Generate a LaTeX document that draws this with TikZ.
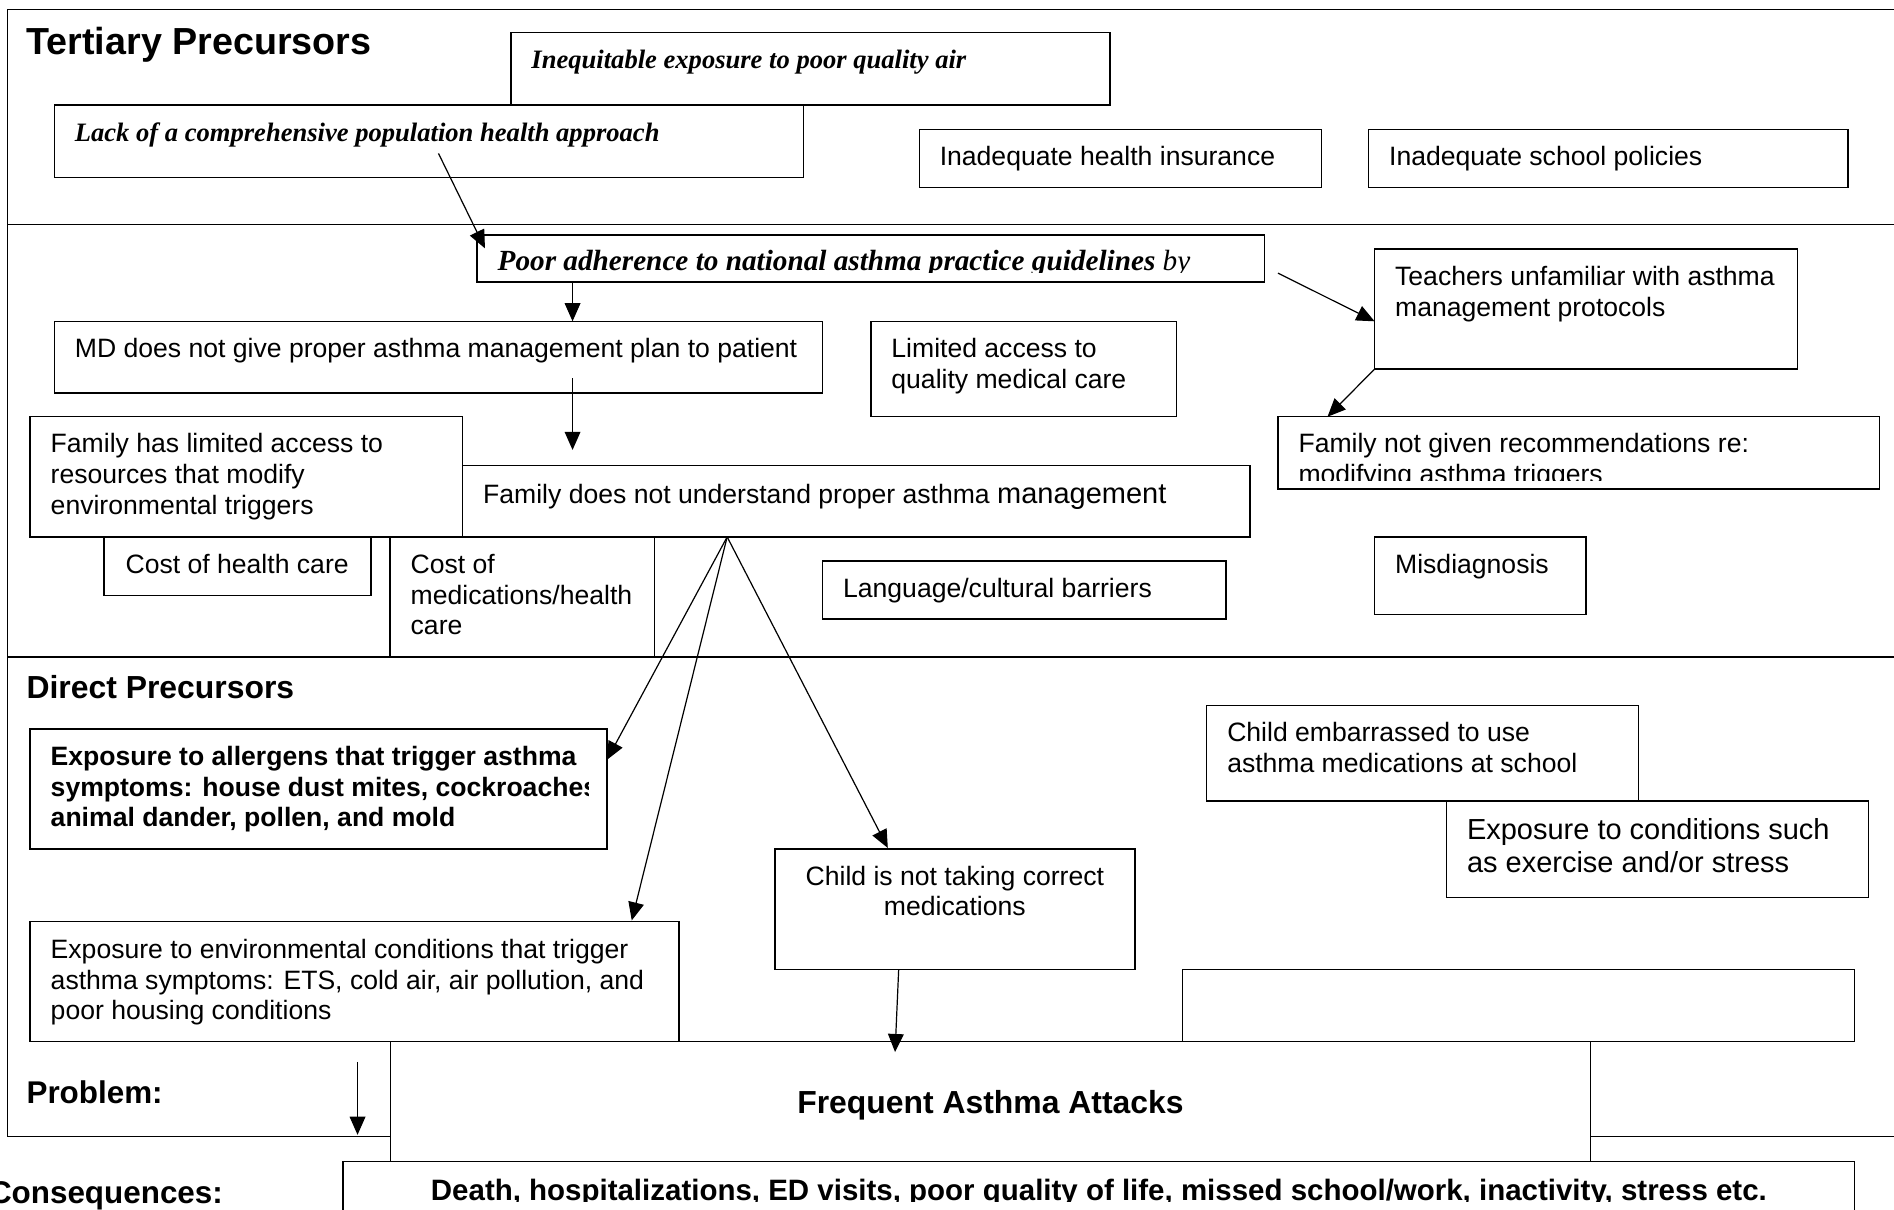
\documentclass[tikz,border=0pt]{standalone}
\usepackage{fontspec}
\setmainfont{Liberation Sans}
\newfontfamily\tnr{Liberation Serif}
\usetikzlibrary{fit,calc,arrows.meta}
\newcommand\mkbox[5]{\node[box,fit={(#2,#3) (#4,#5)}] (#1) {};}
\begin{document}
\begin{tikzpicture}[x=1pt,y=-1pt,
  frame/.style={draw,line width=1.2pt,inner sep=0pt,outer sep=0pt},
  box/.style={draw,fill=white,line width=1.2pt,inner sep=0pt,outer sep=0pt},
  txt/.style={inner sep=0pt,outer sep=0pt,anchor=base west,font=\fontsize{22}{25.3}\selectfont},
  tnrbi/.style={inner sep=0pt,outer sep=0pt,anchor=base west,font=\tnr\bfseries\itshape\fontsize{22}{25.3}\selectfont},
  head/.style={inner sep=0pt,outer sep=0pt,anchor=base west},
  arr/.style={line width=1pt,-{Triangle[length=15pt,width=13pt]}}]
\useasboundingbox (0,0) rectangle (1568,1001);
\clip (0,0) rectangle (1568,1001);

% ---------- section frames ----------
\node[frame,fit={(6,8) (1600,186)}] (tertframe) {};
\node[frame,fit={(6,186) (1600,544)}] (midframe) {};
\node[frame,fit={(6,544) (1600,941)}] (dirframe) {};

% ---------- tertiary precursors ----------
\node[head,font=\bfseries\fontsize{31.2}{34}\selectfont] (tert) at (22,45.5) {Tertiary Precursors};
\mkbox{ineq}{423}{27}{919}{87}
\mkbox{lack}{45}{87}{665}{147}
\mkbox{ins}{761}{107}{1094}{155}
\mkbox{pol}{1133}{107}{1530}{155}
\node[tnrbi] (ineqt) at ($(ineq.north west)+(17,30)$) {Inequitable exposure to poor quality air};
\node[tnrbi] (lackt) at ($(lack.north west)+(17,30)$) {Lack of a comprehensive population health approach};
\node[txt] (inst) at ($(ins.north west)+(17,30)$) {Inadequate health insurance};
\node[txt] (polt) at ($(pol.north west)+(17,30)$) {Inadequate school policies};

% ---------- middle band ----------
\mkbox{adh}{395}{194.6}{1047}{233.5}
\mkbox{md}{45}{266}{681}{325.5}
\mkbox{lim}{721}{266}{974}{345}
\mkbox{teach}{1138}{206}{1488}{305.5}
\mkbox{famrec}{1058}{345}{1556}{405}
\mkbox{famlim}{25}{345}{383}{444.5}
\mkbox{fam}{383}{385.5}{1035}{444.5}
\mkbox{costh}{86}{444.5}{307}{493}
\mkbox{costm}{323}{444.5}{542}{544}
\mkbox{lang}{681}{464.5}{1015}{512.5}
\mkbox{mis}{1138}{444.5}{1313}{508.5}

\begin{scope}
\clip (adh.north west) rectangle ($(adh.north east)+(0,30.6)$);
\node[tnrbi,font=\tnr\bfseries\itshape\fontsize{24.2}{27.6}\selectfont] (adht) at ($(adh.north west)+(17,29.6)$) {Poor adherence to national asthma practice guidelines {\mdseries by}};
\end{scope}
\node[txt] (mdt) at ($(md.north west)+(17,30)$) {MD does not give proper asthma management plan to patient};
\node[txt] (limt) at ($(lim.north west)+(17,30)$) {\parbox[t]{300pt}{\raggedright Limited access to\\quality medical care}};
\node[txt] (teacht) at ($(teach.north west)+(17,30.5)$) {\parbox[t]{400pt}{\raggedright Teachers unfamiliar with asthma\\management protocols}};
\begin{scope}
\clip (famrec.north west) rectangle ($(famrec.north east)+(0,52.5)$);
\node[txt] (famrect) at ($(famrec.north west)+(17,30)$) {\parbox[t]{500pt}{\raggedright Family not given recommendations re:\\modifying asthma triggers}};
\end{scope}
\node[txt] (famlimt) at ($(famlim.north west)+(17,30)$) {\parbox[t]{400pt}{\raggedright Family has limited access to\\resources that modify\\environmental triggers}};
\node[txt] (famt) at ($(fam.north west)+(17,31.5)$) {Family does not understand proper asthma {\fontsize{24}{27.6}\selectfont management}};
\node[txt] (costht) at ($(costh.north west)+(18,30.5)$) {Cost of health care};
\node[txt] (costmt) at ($(costm.north west)+(17,30.5)$) {\parbox[t]{300pt}{\raggedright Cost of\\medications/health\\care}};
\node[txt] (langt) at ($(lang.north west)+(17,30.5)$) {Language/cultural barriers};
\node[txt] (mist) at ($(mis.north west)+(17,30.5)$) {Misdiagnosis};

% ---------- direct precursors ----------
\node[head,font=\bfseries\fontsize{26.4}{30}\selectfont] (direct) at (22,578.5) {Direct Precursors};
\mkbox{allerg}{25}{603.5}{502.5}{703}
\mkbox{env}{25}{763}{562}{862}
\mkbox{child}{641.5}{703}{939.5}{802.5}
\mkbox{emb}{999}{584}{1356.5}{663}
\mkbox{cond}{1197.5}{663}{1547}{743}
\mkbox{empty}{979}{802.5}{1535.5}{862}

\begin{scope}
\clip (allerg.north west) rectangle ($(allerg.south west)+(462,0)$);
\node[txt,font=\bfseries\fontsize{22}{25.3}\selectfont] (allergt) at ($(allerg.north west)+(17,30.5)$) {\parbox[t]{600pt}{\raggedright Exposure to allergens that trigger asthma\\symptoms: house dust mites, cockroaches,\\animal dander, pollen, and mold}};
\end{scope}
\node[txt] (envt) at ($(env.north west)+(17,30.5)$) {\parbox[t]{600pt}{\raggedright Exposure to environmental conditions that trigger\\asthma symptoms: ETS, cold air, air pollution, and\\poor housing conditions}};
\node[txt,anchor=base] (childt) at ($(child.north)+(0,30)$) {\parbox[t]{298pt}{\centering Child is not taking correct\\medications}};
\node[txt] (embt) at ($(emb.north west)+(17,30)$) {\parbox[t]{400pt}{\raggedright Child embarrassed to use\\asthma medications at school}};
\node[txt,font=\fontsize{24}{27.6}\selectfont] (condt) at ($(cond.north west)+(17,32)$) {\parbox[t]{400pt}{\raggedright Exposure to conditions such\\as exercise and/or stress}};

% ---------- problem and consequences ----------
\node[head,font=\bfseries\fontsize{26}{30}\selectfont] (prob) at (22,913.4) {Problem:};
\mkbox{freq}{323.5}{862}{1316.5}{985}
\mkbox{death}{284}{961.5}{1535.5}{1030}
\node[head,anchor=base,font=\bfseries\fontsize{26.4}{30}\selectfont] (freqt) at ($(freq.north)+(0,60)$) {Frequent Asthma Attacks};
\begin{scope}
\clip (death.north west) rectangle ($(death.north east)+(0,33)$);
\node[head,anchor=base,font=\bfseries\fontsize{24.4}{28}\selectfont] (deatht) at ($(death.north)+(0,32)$) {Death, hospitalizations, ED visits, poor quality of life, missed school/work, inactivity, stress etc.};
\end{scope}
\node[head,anchor=base east,font=\bfseries\fontsize{26}{30}\selectfont] (cons) at (184.5,996) {Consequences:};

% ---------- connectors ----------
\draw[arr] ($(lack.north west)+(318,40)$) -- ($(adh.north west)+(6.5,11)$);
\draw[arr] ($(adh.south west)+(79,0)$) -- ($(md.north west)+(429,0)$);
\draw[arr] ($(md.north west)+(429,47)$) -- ($(fam.north west)+(91,-13)$);
\draw[arr] ($(adh.north east)+(11,31.5)$) -- ($(teach.north west)+(0,60)$);
\draw[arr] (teach.south west) -- ($(famrec.north west)+(41,0)$);
\draw[arr] ($(fam.south west)+(219,0)$) -- ($(allerg.north east)+(0,25.5)$);
\draw[arr] ($(fam.south west)+(219,0)$) -- ($(env.north west)+(498,-1)$);
\draw[arr] ($(fam.south west)+(219,0)$) -- ($(child.north west)+(93.5,-1)$);
\draw[arr] ($(child.south west)+(102.5,0)$) -- ($(freq.north west)+(417.5,9)$);
\coordinate (probstart) at (296,879);
\draw[arr] (probstart) -- ($(dirframe.south west)+(290,-1.5)$);
\end{tikzpicture}
\end{document}
